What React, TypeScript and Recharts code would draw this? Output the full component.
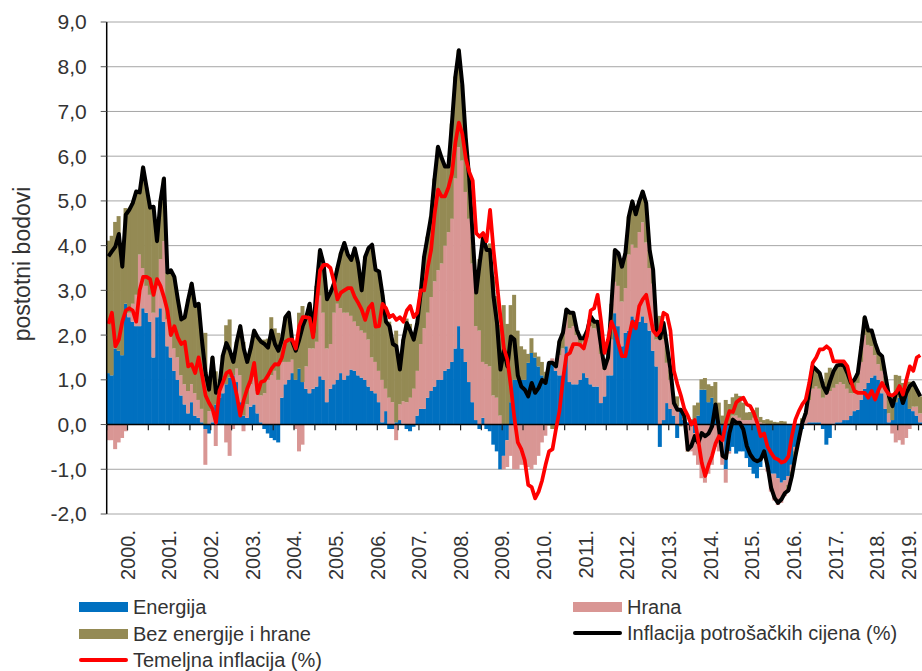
import React from "react"
import { ComposedChart, Bar, Line, XAxis, YAxis, CartesianGrid, ReferenceLine } from "recharts"

// mjesečni doprinosi (postotni bodovi), siječanj 2000. – srpanj 2019.
const energija = [
  1.15, 1.1, 1.7, 1.65, 1.55, 2.7, 2.4, 2.3, 2.2, 2.2, 2.6, 2.5, // 2000
  2.3, 1.5, 2.4, 2.6, 2.3, 1.75, 1.5, 1.2, 1.0, 0.65, 0.45, 0.25, // 2001
  0.5, 0.2, 0.15, 0.05, -0.1, -0.2, 0.05, 0.45, 0.6, 0.7, 0.9, 1.05, // 2002
  1.1, 0.95, 0.5, 0.2, 0.15, 0.4, 0.45, 0.25, 0.05, -0.1, -0.2, -0.3, // 2003
  -0.35, -0.4, 0.6, 0.9, 1.0, 1.15, 1.0, 1.25, 0.95, 0.8, 0.7, 0.8, // 2004
  0.85, 1.08, 1.0, 0.5, 0.8, 0.9, 1.0, 1.15, 1.0, 1.1, 1.23, 1.2, // 2005
  1.1, 1.05, 1.0, 0.85, 0.75, 0.7, 0.5, 0.05, 0.3, -0.1, -0.1, 0.05, // 2006
  0.1, 0.02, -0.1, -0.15, -0.05, 0.2, 0.35, 0.35, 0.6, 0.75, 0.85, 1.0, // 2007
  1.0, 1.2, 1.25, 1.4, 1.7, 2.2, 1.7, 1.4, 0.95, 0.5, 0.1, -0.1, // 2008
  0.15, -0.1, -0.15, -0.45, -0.6, -1.0, -0.7, -0.35, 0.5, 1.0, 1.0, 1.0, // 2009
  1.0, 1.38, 1.6, 1.5, 1.3, 1.1, 0.93, 1.38, 1.38, 1.2, 1.1, 1.1, // 2010
  1.75, 0.95, 0.9, 0.9, 1.0, 1.15, 1.05, 0.9, 0.85, 0.85, 0.48, 0.63, // 2011
  1.1, 1.1, 2.49, 2.2, 1.75, 2.05, 2.1, 2.42, 2.35, 2.3, 2.42, 2.27, // 2012
  2.1, 1.65, 1.3, -0.5, 0.1, 0.48, 0.35, 0.2, -0.3, 0.35, 0.1, 0.05, // 2013
  0.05, -0.19, 0.2, 0.78, 0.78, 0.5, 0.6, 0.45, 0.1, -0.3, -1.0, -0.6, // 2014
  -0.5, -0.65, -0.6, -0.6, -0.75, -0.95, -1.1, -1.2, -0.95, -0.7, -0.95, -1.1, // 2015
  -1.1, -1.2, -1.3, -1.25, -1.15, -0.9, -0.5, -0.35, -0.1, 0.02, 0.05, 0.05, // 2016
  0.05, 0.05, -0.1, -0.45, -0.3, 0.02, 0.05, 0.05, 0.1, 0.1, 0.2, 0.3, // 2017
  0.33, 0.55, 0.8, 0.93, 1.05, 1.1, 1.0, 0.7, 0.35, 0.05, 0.1, 0.5, // 2018
  0.6, 0.65, 0.75, 0.35, 0.3, 0.2, 0.05, // 2019
]

const hrana = [
  -0.35, -0.35, -0.55, -0.4, -0.3, -0.15, 0.1, 0.4, 0.7, 1.6, 0.9, 0.6,
  0.6, 1.0, 0.7, 1.1, 1.8, 0.6, 0.5, 0.5, 0.5, 0.45, 0.45, 0.5,
  0.4, 0.5, 0.4, 0.3, -0.8, 0.3, 0.3, -0.48, 0.2, 0.2, -0.4, -0.7,
  -0.1, 0.3, 0.6, -0.15, 0.3, 0.5, 0.6, 0.5, 0.6, 0.7, 1.0, 1.1,
  1.2, 1.0, 0.8, 0.5, 0.4, 0.3, -0.1, -0.6, -0.45, 0.5, 1.0, 0.9,
  1.0, 1.8, 1.5, 1.2, 1.0, 1.6, 1.7, 1.45, 1.5, 1.4, 1.2, 1.1,
  1.1, 1.05, 1.05, 1.05, 0.75, 0.7, 0.7, 0.95, 0.5, 0.6, 0.5, -0.35,
  0.35, 0.5, 0.5, 0.6, 0.8, 1.0, 1.45, 1.8, 1.9, 2.1, 2.35, 2.45,
  2.6, 2.8, 3.05, 3.2, 3.8, 4.0, 4.2, 3.8, 3.65, 3.1, 2.1, 2.1,
  1.25, 1.35, 1.3, 0.65, 0.6, 0.2, -0.3, -0.6, -0.7, -1.0, -1.0, -0.9,
  -0.9, -0.95, -1.0, -0.9, -0.7, -0.4, -0.25, 0.02, 0.1, 0.2, 0.45, 0.6,
  0.7, 1.2, 1.3, 1.1, 0.8, 0.7, 0.9, 1.3, 1.3, 1.4, 1.1, 0.6,
  0.35, 0.8, 0.7, 0.9, 1.0, 1.0, 1.7, 1.6, 1.6, 2.0, 2.1, 1.8,
  1.4, 1.5, 0.6, 1.9, 1.8, 0.9, 0.65, 0.25, 0.4, 0.02, 0.05, -0.6,
  -0.6, -0.5, -0.9, -1.2, -1.3, -1.1, -0.9, -0.5, -0.6, -0.6, -0.3, -0.05,
  0.2, 0.2, 0.15, 0.1, 0.1, 0.1, 0.15, 0.15, 0.05, 0.02, -0.1, -0.4,
  -0.6, -0.6, -0.45, -0.35, -0.2, -0.15, -0.1, 0.02, 0.05, 0.2, 0.5, 0.75,
  0.8, 0.75, 0.6, 0.7, 0.75, 0.8, 0.85, 0.9, 0.8, 0.7, 0.5, 0.4,
  0.6, 0.85, 1.2, 0.85, 0.7, 0.45, 0.35, 0.5, 0.45, 0.2, -0.2, -0.4,
  -0.35, -0.45, -0.3, -0.1, 0.1, 0.2, 0.2,
]

const bezEnergijeIHrane = [
  2.96, 3.12, 2.83, 3.01, 2.28, 2.14, 2.3, 2.25, 2.31, 1.39, 2.25, 2.2,
  1.95, 2.37, 1.0, 1.3, 1.4, 1.05, 1.45, 1.6, 1.3, 1.25, 1.5, 2.05,
  2.25, 1.95, 2.15, 1.5, 2.05, 0.68, 1.15, 0.74, 0.06, 0.65, 1.32, 1.3,
  0.4, 0.6, 1.1, 1.65, 0.95, 0.8, 1.05, 1.2, 1.2, 1.2, 0.92, 1.3,
  0.95, 1.05, 0.5, 1.0, 1.1, 0.4, 0.75, 1.25, 1.7, 1.1, 1.0, 0.35,
  1.25, 1.02, 1.1, 1.1, 1.15, 0.65, 0.8, 1.23, 1.56, 1.3, 1.25, 1.64,
  1.4, 0.9, 1.7, 2.05, 2.52, 2.06, 2.22, 1.9, 1.5, 1.7, 1.4, 2.05,
  0.78, 1.38, 1.87, 1.65, 1.15, 1.07, 1.14, 1.61, 1.7, 1.8, 2.3, 2.76,
  2.37, 1.77, 1.47, 2.13, 2.28, 2.17, 1.7, 1.2, 0.9, 0.6, 0.75, 1.6,
  2.8, 2.65, 2.75, 2.66, 2.27, 2.03, 2.67, 2.25, 2.17, 1.9, 1.1, 0.75,
  0.68, 0.2, 0.33, 0.11, 0.22, 0.3, 0.25, -0.02, -0.1, -0.1, 0.31, 0.35,
  0.12, 0.35, 0.3, 0.12, 0.13, 0.08, 0.15, 0.22, 0.15, 0.05, 0.17, 0.03,
  0.05, 0.8, 0.71, 0.73, 0.78, 0.78, 0.85, 0.97, 0.75, 0.69, 0.69, 0.88,
  0.4, 0.31, 0.22, 0.53, 0.37, 0.37, 0.23, 0.03, 0.23, -0.04, 0.04, -0.01,
  0.07, 0.43, 0.29, 0.23, 0.26, 0.4, 0.26, 0.5, 0.39, 0.2, 0.55, 0.46,
  0.41, 0.49, 0.49, 0.39, 0.17, 0.18, 0.17, 0.23, 0.12, 0.08, 0.12, 0.09,
  0.06, 0.05, 0.08, 0.07, -0.12, -0.1, -0.11, 0.0, 0.09, 0.04, 0.23, 0.5,
  0.38, 0.35, 0.36, 0.46, 0.52, 0.37, 0.42, 0.39, 0.42, 0.35, 0.23, 0.3,
  0.22, 0.35, 0.4, 0.32, 0.35, 0.27, 0.25, 0.33, 0.28, 0.38, 0.51, 0.61,
  0.49, 0.28, 0.26, 0.61, 0.53, 0.38, 0.38,
]

// godišnje stope (%)
const inflacija = [
  3.76, 3.87, 3.98, 4.26, 3.53, 4.69, 4.8, 4.95, 5.21, 5.19, 5.75, 5.3,
  4.85, 4.87, 4.1, 5.0, 5.5, 3.4, 3.45, 3.3, 2.8, 2.35, 2.4, 2.8,
  3.15, 2.65, 2.7, 1.85, 1.15, 0.78, 1.5, 0.71, 0.86, 1.55, 1.82, 1.65,
  1.4, 1.85, 2.2, 1.7, 1.4, 1.7, 2.1, 1.95, 1.85, 1.8, 1.72, 2.1,
  1.8, 1.65, 1.9, 2.4, 2.5, 1.85, 1.65, 1.9, 2.2, 2.4, 2.7, 2.05,
  3.1, 3.9, 3.6, 2.8, 2.95, 3.15, 3.5, 3.83, 4.06, 3.8, 3.68, 3.94,
  3.6, 3.0, 3.75, 3.95, 4.02, 3.46, 3.42, 2.9, 2.3, 2.2, 1.8, 1.75,
  1.23, 1.9, 2.27, 2.1, 1.9, 2.27, 2.94, 3.76, 4.2, 4.65, 5.5, 6.21,
  5.97, 5.77, 5.77, 6.73, 7.78, 8.37, 7.6, 6.4, 5.5, 4.2, 2.95, 3.6,
  4.2, 3.9, 3.9, 2.86, 2.27, 1.23, 1.67, 1.3, 1.97, 1.9, 1.1, 0.85,
  0.78, 0.63, 0.93, 0.71, 0.82, 1.0, 0.93, 1.38, 1.38, 1.3, 1.86, 2.05,
  2.57, 2.5, 2.5, 2.12, 1.93, 1.93, 2.1, 2.42, 2.3, 2.3, 1.75, 1.26,
  1.5, 2.7, 3.9, 3.83, 3.53, 3.83, 4.65, 4.99, 4.7, 4.99, 5.21, 4.95,
  3.9, 3.46, 2.12, 1.93, 2.27, 1.75, 1.23, 0.48, 0.33, 0.33, 0.19, -0.56,
  -0.48, -0.26, -0.41, -0.19, -0.26, -0.2, -0.04, 0.45, -0.11, -0.7, -0.75, -0.19,
  0.11, 0.04, 0.04, -0.11, -0.48, -0.67, -0.78, -0.82, -0.78, -0.6, -0.93, -1.41,
  -1.64, -1.75, -1.67, -1.53, -1.47, -1.15, -0.71, -0.33, 0.04, 0.26, 0.78, 1.3,
  1.23, 1.15, 0.86, 0.71, 0.97, 1.19, 1.32, 1.34, 1.32, 1.15, 0.93, 1.0,
  1.15, 1.75, 2.4, 2.1, 2.1, 1.82, 1.6, 1.53, 1.08, 0.63, 0.41, 0.71,
  0.74, 0.48, 0.71, 0.86, 0.93, 0.78, 0.63,
]

const temeljna = [
  2.25, 2.5, 1.75, 1.9, 2.3, 2.55, 2.6, 2.55, 2.3, 3.0, 3.3, 3.3,
  3.25, 2.9, 3.25, 3.1, 2.85, 2.55, 2.0, 2.2, 1.95, 1.8, 1.85, 1.3,
  1.35, 1.15, 1.5, 1.1, 0.65, 0.48, 0.35, 0.04, 0.75, 0.95, 1.15, 1.2,
  1.0, 0.65, 0.2, 0.55, 0.8, 1.0, 1.38, 0.7, 0.95, 0.98, 1.1, 1.25,
  1.35, 1.34, 1.5, 1.85, 1.9, 1.9, 1.7, 2.2, 2.4, 2.4, 2.38, 1.95,
  2.7, 3.45, 3.57, 3.57, 3.5, 3.2, 2.8, 2.95, 3.0, 3.05, 3.05, 2.85,
  2.72, 2.57, 2.34, 2.6, 2.7, 2.19, 2.2, 2.7, 2.6, 2.4, 2.45, 2.34,
  2.4, 2.3, 2.55, 2.65, 2.4, 2.5, 3.0, 3.0, 3.5, 3.9, 4.7, 5.25,
  5.1, 5.1, 5.3, 5.6, 6.3, 6.75, 6.5, 5.95, 5.65, 5.45, 4.28, 4.2,
  4.28, 4.1, 4.8, 3.9, 3.15, 2.4, 1.7, 1.45, 0.85, 0.15, -0.4, -0.55,
  -0.8, -1.35, -1.4, -1.65, -1.5, -1.25, -0.9, -0.6, -0.55, -0.1, 0.3, 1.0,
  1.55, 1.6, 1.8, 1.8, 1.78, 1.7, 2.0, 2.55, 2.6, 2.9, 2.3, 1.6,
  1.9, 2.3, 2.1, 1.8, 1.53, 1.53, 1.95, 2.3, 2.15, 2.65, 2.8, 2.9,
  2.5, 2.1, 2.0, 2.1, 2.5, 2.45, 2.1, 1.2, 0.9, 0.65, 0.35, 0.2,
  0.0, 0.1, -0.35, -0.85, -1.15, -0.9, -0.7, -0.42, -0.26, -0.35, 0.05, 0.3,
  0.28, 0.5, 0.56, 0.6, 0.45, 0.41, 0.26, 0.04, -0.26, -0.2, -0.5, -0.63,
  -0.75, -0.78, -0.85, -0.82, -0.71, -0.26, 0.11, 0.3, 0.45, 0.56, 0.93, 1.38,
  1.5, 1.68, 1.68, 1.75, 1.68, 1.41, 1.41, 1.41, 1.41, 1.3, 0.97, 0.75,
  0.71, 0.71, 0.71, 0.6, 0.75, 0.56, 0.78, 0.93, 0.78, 0.67, 0.65, 0.71,
  0.86, 0.67, 1.0, 1.3, 1.2, 1.5, 1.55,
]

const godine = [
  "2000", "2001", "2002", "2003", "2004", "2005", "2006", "2007", "2008", "2009",
  "2010", "2011", "2012", "2013", "2014", "2015", "2016", "2017", "2018", "2019",
]
const mjeseciUGodini = ["01", "02", "03", "04", "05", "06", "07", "08", "09", "10", "11", "12"]
const yTicks = [-2, -1, 0, 1, 2, 3, 4, 5, 6, 7, 8, 9]

const mjeseci = godine.flatMap((g) => mjeseciUGodini.map((m) => `${g}-${m}`)).slice(0, energija.length)

const data = mjeseci.map((m, i) => ({
  mjesec: m,
  energija: energija[i],
  hrana: hrana[i],
  bez: bezEnergijeIHrane[i],
  inflacija: inflacija[i],
  temeljna: temeljna[i],
}))

// oznake godina stoje na sredini godine (srpanj)
const yearTicks = godine.map((g) => `${g}-07`).filter((m) => mjeseci.includes(m))
// kratke crtice na nultoj liniji svakih šest mjeseci
const halfYears = mjeseci.filter((m) => m.endsWith("-01") || m.endsWith("-07"))

const FONT = "'Liberation Sans', Arial, sans-serif"
const TEXT = "#333333"

const BLUE = "#0070C0"
const PINK = "#D99694"
const OLIVE = "#948A54"

// recharts zaokružuje širinu stupca na cijeli piksel pa ostaju bijeli procjepi;
// stupac malo proširimo da se susjedni dodiruju kao u Excelu
const SolidBar = (props: any) => {
  const { x, y, width, height, fill } = props
  if (!height || !width) return null
  const top = height < 0 ? y + height : y
  return <rect x={x - 0.5} y={top} width={width + 1} height={Math.abs(height)} fill={fill} />
}

const YearTick = (props: any) => {
  const { x, y, payload } = props
  // zadnja oznaka ne smije izaći preko ruba slike
  const cx = Math.min(x - 1.5, 909)
  return (
    <text
      x={cx}
      y={y}
      transform={`rotate(-90 ${cx} ${y})`}
      textAnchor="end"
      dominantBaseline="central"
      fontSize={20}
      fontFamily={FONT}
      fill={TEXT}
    >
      {payload.value.slice(0, 4)}.
    </text>
  )
}

const AxisTitle = (props: any) => {
  const { viewBox } = props
  const x = viewBox.x + 22
  const y = viewBox.y + viewBox.height / 2 - 4
  return (
    <text
      x={x}
      y={y}
      transform={`rotate(-90 ${x} ${y})`}
      textAnchor="middle"
      dominantBaseline="central"
      fontSize={23}
      fontFamily={FONT}
      fill={TEXT}
    >
      postotni bodovi
    </text>
  )
}

const legendItems = [
  { label: "Energija", color: BLUE, kind: "bar", left: 79, top: 597 },
  { label: "Hrana", color: PINK, kind: "bar", left: 573, top: 597 },
  { label: "Bez energije i hrane", color: OLIVE, kind: "bar", left: 79, top: 623.5 },
  { label: "Inflacija potrošačkih cijena (%)", color: "#000000", kind: "line", left: 573, top: 622.5 },
  { label: "Temeljna inflacija (%)", color: "#FF0000", kind: "line", left: 79, top: 649.5 },
]

function ChartLegend() {
  return (
    <>
      {legendItems.map((it) => (
        <div
          key={it.label}
          style={{
            position: "absolute",
            left: it.left,
            top: it.top,
            height: 20,
            display: "flex",
            alignItems: "center",
            fontSize: 20,
            lineHeight: "20px",
            fontFamily: FONT,
            color: TEXT,
            whiteSpace: "nowrap",
          }}
        >
          <span
            style={{
              display: "inline-block",
              width: 49,
              height: it.kind === "bar" ? 10 : 4,
              background: it.color,
              borderRadius: it.kind === "bar" ? 0 : 2,
              marginRight: 5,
            }}
          />
          <span>{it.label}</span>
        </div>
      ))}
    </>
  )
}

export default function App() {
  return (
    <div
      style={{
        position: "absolute",
        left: 0,
        top: 0,
        width: 922,
        height: 671,
        overflow: "hidden",
        background: "#ffffff",
        fontFamily: FONT,
      }}
    >
      <ComposedChart
        width={922}
        height={600}
        data={data}
        stackOffset="sign"
        barCategoryGap="0%"
        barGap={0}
        margin={{ top: 22, right: 0, bottom: 0, left: 0 }}
      >
        <CartesianGrid vertical={false} stroke="#a6a6a6" strokeWidth={1} />
        <XAxis
          dataKey="mjesec"
          ticks={yearTicks}
          interval={0}
          height={86}
          axisLine={false}
          tickLine={false}
          tickSize={0}
          tickMargin={16}
          tick={<YearTick />}
        />
        <YAxis
          type="number"
          domain={[-2, 9]}
          ticks={yTicks}
          interval={0}
          width={106.7}
          tickSize={6}
          tickMargin={14}
          axisLine={{ stroke: "#000000", strokeWidth: 1.5 }}
          tickLine={{ stroke: "#555555" }}
          tick={{ fontSize: 21, fill: TEXT, fontFamily: FONT }}
          tickFormatter={(v: number) => v.toFixed(1).replace(".", ",")}
          label={<AxisTitle />}
        />
        <Bar dataKey="energija" stackId="s" fill={BLUE} shape={<SolidBar />} isAnimationActive={false} />
        <Bar dataKey="hrana" stackId="s" fill={PINK} shape={<SolidBar />} isAnimationActive={false} />
        <Bar dataKey="bez" stackId="s" fill={OLIVE} shape={<SolidBar />} isAnimationActive={false} />
        <ReferenceLine y={0} stroke="#000000" strokeWidth={1.5} />
        {halfYears.map((m) => (
          <ReferenceLine
            key={m}
            segment={[
              { x: m, y: 0 },
              { x: m, y: -0.13 },
            ]}
            position="start"
            stroke="#222222"
            strokeWidth={1.2}
          />
        ))}
        <Line
          type="linear"
          dataKey="inflacija"
          stroke="#000000"
          strokeWidth={4}
          strokeLinejoin="round"
          dot={false}
          activeDot={false}
          isAnimationActive={false}
        />
        <Line
          type="linear"
          dataKey="temeljna"
          stroke="#FF0000"
          strokeWidth={3.75}
          strokeLinejoin="round"
          dot={false}
          activeDot={false}
          isAnimationActive={false}
        />
      </ComposedChart>
      <ChartLegend />
    </div>
  )
}
